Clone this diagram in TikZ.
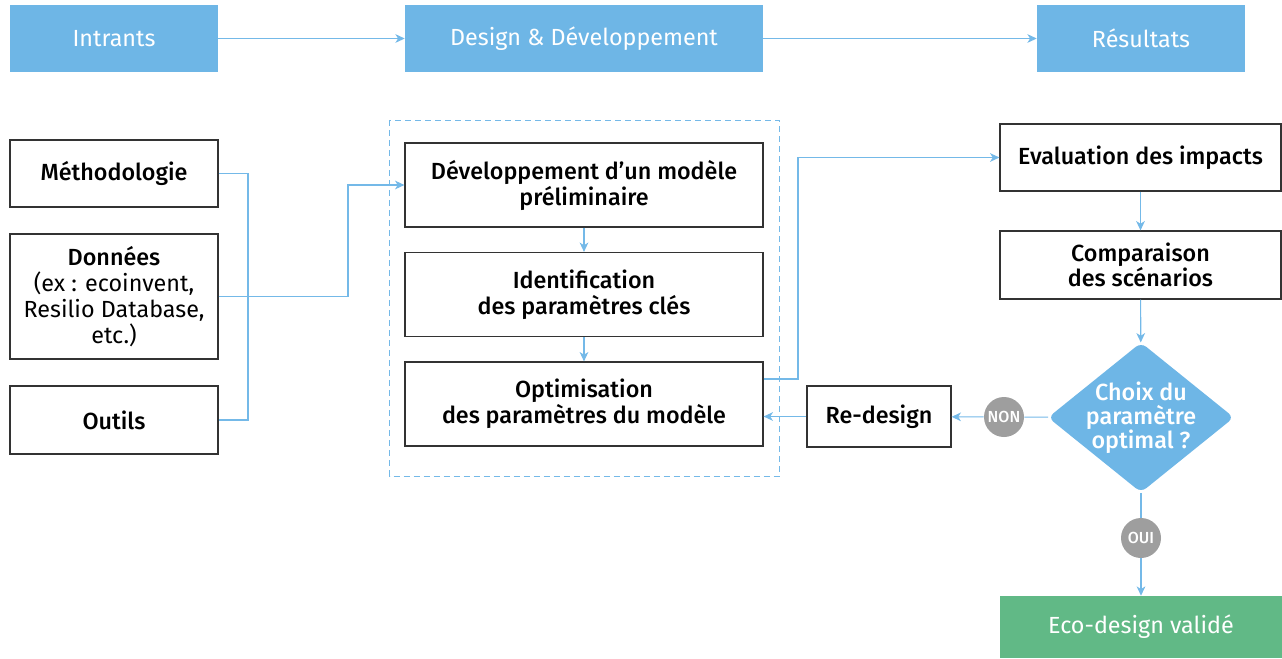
\documentclass[tikz,border=0pt]{standalone}
\usepackage{fontspec}
\setmainfont{Fira Sans}[BoldFont={Fira Sans Medium}]
\usetikzlibrary{arrows.meta,shapes.geometric}

\definecolor{headblue}{HTML}{6EB6E6}
\definecolor{lineblue}{HTML}{74B9E8}
\definecolor{okgreen}{HTML}{61B986}
\definecolor{taggray}{HTML}{9E9E9E}
\definecolor{edgegray}{HTML}{333333}

\tikzset{
  head/.style={fill=headblue,text=white,minimum height=50.25pt,inner sep=0pt,
    font=\fontsize{17.5}{19}\selectfont},
  box/.style={draw=edgegray,line width=0.9pt,fill=white,align=center,inner sep=0pt,
    font=\bfseries\fontsize{17.5}{19.5}\selectfont},
  link/.style={draw=lineblue,line width=0.85pt},
  flow/.style={link,-{Stealth[length=7pt,width=6.5pt,inset=2pt]}},
  tag/.style={circle,fill=taggray,text=white,minimum size=30pt,inner sep=0pt,
    font=\bfseries\fontsize{12}{13}\selectfont},
}

\begin{document}
\begin{tikzpicture}[x=0.75pt,y=-0.75pt]
      \useasboundingbox (0,0) rectangle (1282,658);

      \node[head,minimum width=156pt] (intr) at (114,38.5) {Intrants};
      \node[head,minimum width=268.5pt] (design) at (584,38.5) {Design \& Développement};
      \node[head,minimum width=156pt] (result) at (1141,38.5) {Résultats};

      \draw[dashed,dash pattern=on 4.5pt off 3pt,draw=lineblue,line width=0.75pt]
        (389.5,120) rectangle (779,476);

      \node[box,minimum width=156pt,minimum height=50.25pt] (meth) at (114,173.5) {Méthodologie};
      \node[box,minimum width=156pt,minimum height=93.75pt] (donn) at (114,296.5)
        {Données\\\mdseries(ex : ecoinvent,\\\mdseries Resilio Database,\\\mdseries etc.)};
      \node[box,minimum width=156pt,minimum height=51pt] (outi) at (114,420) {Outils};

      \node[box,minimum width=268.5pt,minimum height=63pt] (dev) at (584,185)
        {Développement d’un modèle\\préliminaire};
      \node[box,minimum width=268.5pt,minimum height=63pt] (iden) at (584,294.5)
        {Identification\\des paramètres clés};
      \node[box,minimum width=268.5pt,minimum height=63pt] (opti) at (584,404)
        {Optimisation\\des paramètres du modèle};

      \node[box,minimum width=210.75pt,minimum height=50.25pt] (eval) at (1140.5,157.5)
        {Evaluation des impacts};
      \node[box,minimum width=210.75pt,minimum height=51pt,
        font=\bfseries\fontsize{17.5}{17.5}\selectfont] (comp) at (1140.5,265)
        {Comparaison\\des scénarios};
      \node[diamond,fill=headblue,minimum width=139.5pt,minimum height=112.5pt,
        inner sep=0pt,rounded corners=5pt] (choix) at (1141,417.5) {};
      \node[text=white,align=center,inner sep=0pt,
        font=\bfseries\fontsize{17.5}{18}\selectfont] (choixlbl) at (choix)
        {Choix du\\paramètre\\optimal ?};
      \node[box,minimum width=108pt,minimum height=45.75pt] (redes) at (879,416.5) {Re-design};
      \node[tag] (non) at (1004,417) {NON};
      \node[tag] (oui) at (1141,538) {OUI};
      \node[fill=okgreen,text=white,minimum width=211.5pt,minimum height=46.5pt,inner sep=0pt,
        font=\fontsize{17.5}{19}\selectfont] (eco) at (1141,627) {Eco-design validé};

      \coordinate (bus) at (248,173.5);
      \coordinate (turn) at (348,296.5);
      \coordinate (rise) at (798,379);

      \draw[flow] (intr) -- (design);
      \draw[flow] (design) -- (result);

      \draw[link] (meth.east) -- (bus) |- (outi.east);
      \draw[flow] (donn.east) -- (turn) |- (dev.west);

      \draw[flow] (dev) -- (iden);
      \draw[flow] (iden) -- (opti);
      \draw[flow] ([yshift=18.75pt]opti.east) -- (rise) |- (eval.west);

      \draw[flow] (eval) -- (comp);
      \draw[flow] (comp) -- (choix);
      \draw[link] (choix) -- (non);
      \draw[flow] (non) -- (redes);
      \draw[flow] (redes.west) -- (redes.west -| opti.east);
      \draw[link] (choix) -- (oui);
      \draw[flow] (oui) -- (eco);
    \end{tikzpicture}
\end{document}
